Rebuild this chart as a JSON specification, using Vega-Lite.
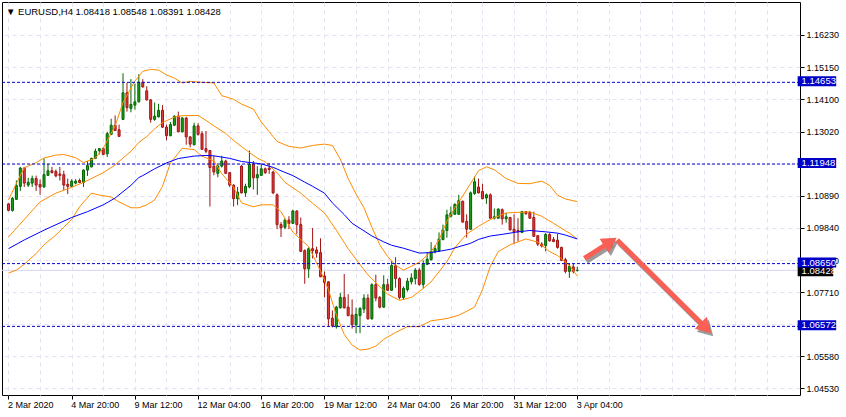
{
  "$schema": "https://vega.github.io/schema/vega-lite/v6.json",
  "width": 798,
  "height": 393,
  "autosize": {"type": "none"},
  "padding": {"left": 2, "top": 2, "right": 46, "bottom": 22},
  "background": "white",
  "title": {
    "text": "▼ EURUSD,H4  1.08418 1.08548 1.08391 1.08428",
    "anchor": "start",
    "frame": "group",
    "orient": "top",
    "offset": 0,
    "baseline": "top",
    "dx": 4,
    "dy": 14,
    "font": "Liberation Sans",
    "fontSize": 9.5,
    "fontWeight": "normal",
    "color": "black"
  },
  "config": {
    "view": {"stroke": "black", "strokeWidth": 1},
    "axis": {
      "gridColor": "#e2e2f2",
      "gridDash": [4, 4],
      "gridWidth": 1,
      "labelFont": "Liberation Sans",
      "labelFontSize": 9,
      "labelColor": "black",
      "tickColor": "black",
      "domain": false,
      "labelOverlap": false,
      "labelBound": false,
      "labelFlush": false
    }
  },
  "datasets": {
    "candles": [
      {"i":0,"o":1.10628,"h":1.1066,"l":1.10387,"c":1.10412},
      {"i":1,"o":1.10412,"h":1.10854,"l":1.1037,"c":1.10812},
      {"i":2,"o":1.1078,"h":1.11403,"l":1.10757,"c":1.11232},
      {"i":3,"o":1.11209,"h":1.11854,"l":1.11057,"c":1.11812},
      {"i":4,"o":1.11812,"h":1.11854,"l":1.11187,"c":1.11316},
      {"i":5,"o":1.11251,"h":1.1149,"l":1.11187,"c":1.11338},
      {"i":6,"o":1.11316,"h":1.11564,"l":1.11187,"c":1.11467},
      {"i":7,"o":1.11467,"h":1.11564,"l":1.11057,"c":1.11251},
      {"i":8,"o":1.11274,"h":1.11435,"l":1.10928,"c":1.11187},
      {"i":9,"o":1.11187,"h":1.12135,"l":1.11167,"c":1.11596},
      {"i":10,"o":1.11573,"h":1.11951,"l":1.11554,"c":1.11725},
      {"i":11,"o":1.11725,"h":1.11854,"l":1.11638,"c":1.11661},
      {"i":12,"o":1.11702,"h":1.11767,"l":1.11509,"c":1.11554},
      {"i":13,"o":1.11619,"h":1.11854,"l":1.11403,"c":1.11573},
      {"i":14,"o":1.11596,"h":1.11725,"l":1.1108,"c":1.11251},
      {"i":15,"o":1.11274,"h":1.11467,"l":1.10951,"c":1.11209},
      {"i":16,"o":1.11209,"h":1.11445,"l":1.11187,"c":1.1138},
      {"i":17,"o":1.11316,"h":1.11445,"l":1.11274,"c":1.1138},
      {"i":18,"o":1.11403,"h":1.11467,"l":1.11316,"c":1.11338},
      {"i":19,"o":1.11338,"h":1.11767,"l":1.11187,"c":1.11748},
      {"i":20,"o":1.11748,"h":1.12048,"l":1.11554,"c":1.11896},
      {"i":21,"o":1.11854,"h":1.12155,"l":1.11832,"c":1.12135},
      {"i":22,"o":1.12135,"h":1.12458,"l":1.12113,"c":1.12371},
      {"i":23,"o":1.12394,"h":1.12477,"l":1.12264,"c":1.12458},
      {"i":24,"o":1.12458,"h":1.125,"l":1.12242,"c":1.12264},
      {"i":25,"o":1.12284,"h":1.13016,"l":1.12177,"c":1.12952},
      {"i":26,"o":1.12929,"h":1.13446,"l":1.1291,"c":1.13232},
      {"i":27,"o":1.13232,"h":1.13555,"l":1.13039,"c":1.13058},
      {"i":28,"o":1.13081,"h":1.13252,"l":1.12845,"c":1.12864},
      {"i":29,"o":1.13426,"h":1.14952,"l":1.13403,"c":1.14307},
      {"i":30,"o":1.14307,"h":1.1463,"l":1.13684,"c":1.13813},
      {"i":31,"o":1.13791,"h":1.14759,"l":1.13662,"c":1.1392},
      {"i":32,"o":1.13897,"h":1.14607,"l":1.13749,"c":1.14007},
      {"i":33,"o":1.14007,"h":1.1492,"l":1.13984,"c":1.14652},
      {"i":34,"o":1.14652,"h":1.14759,"l":1.14478,"c":1.14501},
      {"i":35,"o":1.14372,"h":1.14523,"l":1.14049,"c":1.14071},
      {"i":36,"o":1.14071,"h":1.14091,"l":1.13316,"c":1.13426},
      {"i":37,"o":1.13426,"h":1.13984,"l":1.13381,"c":1.13533},
      {"i":38,"o":1.1351,"h":1.13942,"l":1.13491,"c":1.13726},
      {"i":39,"o":1.13726,"h":1.13897,"l":1.13145,"c":1.13168},
      {"i":40,"o":1.13168,"h":1.13252,"l":1.12736,"c":1.12887},
      {"i":41,"o":1.12887,"h":1.13339,"l":1.12864,"c":1.13252},
      {"i":42,"o":1.13232,"h":1.13555,"l":1.1321,"c":1.13533},
      {"i":43,"o":1.13533,"h":1.13684,"l":1.12994,"c":1.13016},
      {"i":44,"o":1.13016,"h":1.1351,"l":1.12994,"c":1.13468},
      {"i":45,"o":1.13468,"h":1.1351,"l":1.12587,"c":1.12845},
      {"i":46,"o":1.12845,"h":1.12864,"l":1.125,"c":1.12606},
      {"i":47,"o":1.12587,"h":1.13316,"l":1.12564,"c":1.1321},
      {"i":48,"o":1.1321,"h":1.13297,"l":1.12887,"c":1.12929},
      {"i":49,"o":1.12952,"h":1.13039,"l":1.12413,"c":1.12435},
      {"i":50,"o":1.12458,"h":1.13039,"l":1.12306,"c":1.12371},
      {"i":51,"o":1.12394,"h":1.12413,"l":1.10541,"c":1.11832},
      {"i":52,"o":1.11877,"h":1.12219,"l":1.11573,"c":1.11683},
      {"i":53,"o":1.11638,"h":1.11919,"l":1.11509,"c":1.11877},
      {"i":54,"o":1.11877,"h":1.12219,"l":1.11832,"c":1.12048},
      {"i":55,"o":1.12048,"h":1.1209,"l":1.11619,"c":1.11638},
      {"i":56,"o":1.11661,"h":1.11683,"l":1.11187,"c":1.11251},
      {"i":57,"o":1.11251,"h":1.11274,"l":1.10541,"c":1.10799},
      {"i":58,"o":1.10799,"h":1.11187,"l":1.10586,"c":1.11016},
      {"i":59,"o":1.11877,"h":1.11919,"l":1.10973,"c":1.10993},
      {"i":60,"o":1.10993,"h":1.11296,"l":1.10864,"c":1.11209},
      {"i":61,"o":1.11187,"h":1.12394,"l":1.11145,"c":1.11941},
      {"i":62,"o":1.11941,"h":1.12048,"l":1.11103,"c":1.1149},
      {"i":63,"o":1.1149,"h":1.11877,"l":1.10928,"c":1.11596},
      {"i":64,"o":1.11573,"h":1.11941,"l":1.11554,"c":1.1179},
      {"i":65,"o":1.1179,"h":1.11832,"l":1.11619,"c":1.11661},
      {"i":66,"o":1.11812,"h":1.11984,"l":1.11619,"c":1.11767},
      {"i":67,"o":1.11683,"h":1.11725,"l":1.10951,"c":1.10993},
      {"i":68,"o":1.10928,"h":1.10973,"l":1.09789,"c":1.09941},
      {"i":69,"o":1.09941,"h":1.10025,"l":1.09531,"c":1.09831},
      {"i":70,"o":1.09854,"h":1.10154,"l":1.09789,"c":1.1009},
      {"i":71,"o":1.1009,"h":1.10219,"l":1.09789,"c":1.09983},
      {"i":72,"o":1.09983,"h":1.10435,"l":1.09961,"c":1.10393},
      {"i":73,"o":1.10393,"h":1.10412,"l":1.09618,"c":1.09941},
      {"i":74,"o":1.09941,"h":1.10177,"l":1.09038,"c":1.09057},
      {"i":75,"o":1.0908,"h":1.09121,"l":1.07982,"c":1.08476},
      {"i":76,"o":1.08476,"h":1.09186,"l":1.08176,"c":1.09144},
      {"i":77,"o":1.09144,"h":1.09831,"l":1.08821,"c":1.0908},
      {"i":78,"o":1.09102,"h":1.09209,"l":1.08844,"c":1.08993},
      {"i":79,"o":1.09015,"h":1.09489,"l":1.08198,"c":1.08218},
      {"i":80,"o":1.08241,"h":1.08392,"l":1.07531,"c":1.08024},
      {"i":81,"o":1.08047,"h":1.08069,"l":1.06563,"c":1.06821},
      {"i":82,"o":1.06843,"h":1.07101,"l":1.0654,"c":1.06585},
      {"i":83,"o":1.06563,"h":1.0725,"l":1.06498,"c":1.07208},
      {"i":84,"o":1.07185,"h":1.07682,"l":1.07166,"c":1.07531},
      {"i":85,"o":1.07531,"h":1.08305,"l":1.07166,"c":1.07185},
      {"i":86,"o":1.07208,"h":1.07637,"l":1.06907,"c":1.06927},
      {"i":87,"o":1.0695,"h":1.07466,"l":1.06498,"c":1.06627},
      {"i":88,"o":1.06627,"h":1.07185,"l":1.06347,"c":1.06972},
      {"i":89,"o":1.06927,"h":1.07208,"l":1.06347,"c":1.07166},
      {"i":90,"o":1.07144,"h":1.07637,"l":1.07015,"c":1.07508},
      {"i":91,"o":1.07508,"h":1.07637,"l":1.06798,"c":1.06821},
      {"i":92,"o":1.06821,"h":1.07998,"l":1.06798,"c":1.07953},
      {"i":93,"o":1.07953,"h":1.08282,"l":1.07402,"c":1.07508},
      {"i":94,"o":1.07531,"h":1.07573,"l":1.07166,"c":1.07208},
      {"i":95,"o":1.07208,"h":1.08263,"l":1.07185,"c":1.07953},
      {"i":96,"o":1.07953,"h":1.08147,"l":1.07747,"c":1.07766},
      {"i":97,"o":1.07766,"h":1.08734,"l":1.07747,"c":1.08585},
      {"i":98,"o":1.08585,"h":1.08863,"l":1.07853,"c":1.08153},
      {"i":99,"o":1.08153,"h":1.08198,"l":1.07466,"c":1.07531},
      {"i":100,"o":1.07531,"h":1.07895,"l":1.07444,"c":1.07831},
      {"i":101,"o":1.07789,"h":1.08176,"l":1.07724,"c":1.08069},
      {"i":102,"o":1.08047,"h":1.08327,"l":1.0796,"c":1.08176},
      {"i":103,"o":1.08153,"h":1.08499,"l":1.0796,"c":1.08434},
      {"i":104,"o":1.08434,"h":1.08499,"l":1.07918,"c":1.0796},
      {"i":105,"o":1.0796,"h":1.08757,"l":1.07831,"c":1.0865},
      {"i":106,"o":1.08628,"h":1.09038,"l":1.08606,"c":1.08799},
      {"i":107,"o":1.08779,"h":1.0936,"l":1.08757,"c":1.09057},
      {"i":108,"o":1.09038,"h":1.09251,"l":1.08993,"c":1.09144},
      {"i":109,"o":1.0908,"h":1.09683,"l":1.09038,"c":1.09467},
      {"i":110,"o":1.09444,"h":1.09941,"l":1.09425,"c":1.09767},
      {"i":111,"o":1.09747,"h":1.10435,"l":1.09509,"c":1.10264},
      {"i":112,"o":1.10219,"h":1.10541,"l":1.10177,"c":1.10328},
      {"i":113,"o":1.10283,"h":1.10651,"l":1.10264,"c":1.10606},
      {"i":114,"o":1.10283,"h":1.10928,"l":1.10264,"c":1.10735},
      {"i":115,"o":1.10715,"h":1.10735,"l":1.10006,"c":1.10025},
      {"i":116,"o":1.10048,"h":1.10283,"l":1.09509,"c":1.09789},
      {"i":117,"o":1.09789,"h":1.11038,"l":1.09767,"c":1.10993},
      {"i":118,"o":1.10973,"h":1.11532,"l":1.10928,"c":1.11361},
      {"i":119,"o":1.11187,"h":1.11467,"l":1.10973,"c":1.10993},
      {"i":120,"o":1.11038,"h":1.11296,"l":1.1078,"c":1.10799},
      {"i":121,"o":1.10822,"h":1.10973,"l":1.10628,"c":1.10928},
      {"i":122,"o":1.10928,"h":1.10973,"l":1.10134,"c":1.10154},
      {"i":123,"o":1.10154,"h":1.10477,"l":1.10112,"c":1.10199},
      {"i":124,"o":1.10154,"h":1.10477,"l":1.10134,"c":1.10457},
      {"i":125,"o":1.10435,"h":1.10477,"l":1.09941,"c":1.10134},
      {"i":126,"o":1.10134,"h":1.10328,"l":1.10006,"c":1.10199},
      {"i":127,"o":1.10177,"h":1.10199,"l":1.09747,"c":1.09767},
      {"i":128,"o":1.09789,"h":1.10283,"l":1.09296,"c":1.09702},
      {"i":129,"o":1.09747,"h":1.10154,"l":1.0938,"c":1.09702},
      {"i":130,"o":1.09683,"h":1.10393,"l":1.0966,"c":1.1037},
      {"i":131,"o":1.1037,"h":1.10393,"l":1.10264,"c":1.10306},
      {"i":132,"o":1.10348,"h":1.10393,"l":1.10134,"c":1.10154},
      {"i":133,"o":1.10177,"h":1.1037,"l":1.09531,"c":1.09554},
      {"i":134,"o":1.09574,"h":1.09596,"l":1.09231,"c":1.09296},
      {"i":135,"o":1.09296,"h":1.0936,"l":1.09186,"c":1.09231},
      {"i":136,"o":1.09251,"h":1.0966,"l":1.09057,"c":1.09618},
      {"i":137,"o":1.09618,"h":1.0966,"l":1.0938,"c":1.09402},
      {"i":138,"o":1.09444,"h":1.09531,"l":1.0936,"c":1.0938},
      {"i":139,"o":1.09425,"h":1.09638,"l":1.09144,"c":1.09186},
      {"i":140,"o":1.09186,"h":1.09209,"l":1.08734,"c":1.08757},
      {"i":141,"o":1.08779,"h":1.08844,"l":1.08327,"c":1.08392},
      {"i":142,"o":1.08392,"h":1.0865,"l":1.08176,"c":1.08563},
      {"i":143,"o":1.08541,"h":1.0865,"l":1.08327,"c":1.08392},
      {"i":144,"o":1.08418,"h":1.08548,"l":1.08391,"c":1.08428}
    ],
    "bands": [
      {"b":"up","i":0,"p":1.10757},{"b":"up","i":2,"p":1.11306},{"b":"up","i":4,"p":1.11822},{"b":"up","i":7,"p":1.11993},
      {"b":"up","i":9,"p":1.12145},{"b":"up","i":12,"p":1.12242},{"b":"up","i":14,"p":1.12264},{"b":"up","i":17,"p":1.12155},
      {"b":"up","i":19,"p":1.11993},{"b":"up","i":22,"p":1.12145},{"b":"up","i":24,"p":1.12468},{"b":"up","i":27,"p":1.1321},
      {"b":"up","i":29,"p":1.13984},{"b":"up","i":32,"p":1.14694},{"b":"up","i":34,"p":1.15017},{"b":"up","i":36,"p":1.15081},
      {"b":"up","i":38,"p":1.15059},{"b":"up","i":40,"p":1.14897},{"b":"up","i":42,"p":1.14791},{"b":"up","i":44,"p":1.1463},
      {"b":"up","i":46,"p":1.14684},{"b":"up","i":49,"p":1.14652},{"b":"up","i":52,"p":1.1463},{"b":"up","i":54,"p":1.1421},
      {"b":"up","i":57,"p":1.14091},{"b":"up","i":59,"p":1.13929},{"b":"up","i":62,"p":1.13768},{"b":"up","i":64,"p":1.13339},
      {"b":"up","i":66,"p":1.13016},{"b":"up","i":68,"p":1.12694},{"b":"up","i":71,"p":1.12532},{"b":"up","i":74,"p":1.12477},
      {"b":"up","i":77,"p":1.12564},{"b":"up","i":80,"p":1.12606},{"b":"up","i":82,"p":1.12564},{"b":"up","i":84,"p":1.12113},
      {"b":"up","i":86,"p":1.11467},{"b":"up","i":88,"p":1.10951},{"b":"up","i":90,"p":1.10499},{"b":"up","i":92,"p":1.09854},
      {"b":"up","i":94,"p":1.09273},{"b":"up","i":96,"p":1.08886},{"b":"up","i":98,"p":1.08595},{"b":"up","i":100,"p":1.08434},
      {"b":"up","i":102,"p":1.08563},{"b":"up","i":104,"p":1.08692},{"b":"up","i":107,"p":1.09047},{"b":"up","i":109,"p":1.09434},
      {"b":"up","i":111,"p":1.10048},{"b":"up","i":113,"p":1.10499},{"b":"up","i":115,"p":1.10887},{"b":"up","i":117,"p":1.11306},
      {"b":"up","i":119,"p":1.11725},{"b":"up","i":121,"p":1.11855},{"b":"up","i":123,"p":1.11758},{"b":"up","i":126,"p":1.11467},
      {"b":"up","i":129,"p":1.11306},{"b":"up","i":132,"p":1.11296},{"b":"up","i":135,"p":1.1138},{"b":"up","i":137,"p":1.11241},
      {"b":"up","i":139,"p":1.10919},{"b":"up","i":141,"p":1.1079},{"b":"up","i":144,"p":1.10703},
      {"b":"mid","i":0,"p":1.09531},{"b":"mid","i":2,"p":1.09822},{"b":"mid","i":8,"p":1.10693},{"b":"mid","i":12,"p":1.10983},
      {"b":"mid","i":16,"p":1.11177},{"b":"mid","i":19,"p":1.11338},{"b":"mid","i":24,"p":1.11661},{"b":"mid","i":27,"p":1.11919},
      {"b":"mid","i":31,"p":1.12371},{"b":"mid","i":33,"p":1.12661},{"b":"mid","i":35,"p":1.12855},{"b":"mid","i":37,"p":1.13113},
      {"b":"mid","i":39,"p":1.13323},{"b":"mid","i":42,"p":1.135},{"b":"mid","i":44,"p":1.13549},{"b":"mid","i":48,"p":1.13555},
      {"b":"mid","i":50,"p":1.13394},{"b":"mid","i":52,"p":1.1321},{"b":"mid","i":55,"p":1.12961},{"b":"mid","i":57,"p":1.12726},
      {"b":"mid","i":60,"p":1.12426},{"b":"mid","i":63,"p":1.12145},{"b":"mid","i":65,"p":1.12016},{"b":"mid","i":68,"p":1.11661},
      {"b":"mid","i":70,"p":1.11338},{"b":"mid","i":74,"p":1.10983},{"b":"mid","i":77,"p":1.10645},{"b":"mid","i":80,"p":1.10328},
      {"b":"mid","i":83,"p":1.09757},{"b":"mid","i":86,"p":1.09144},{"b":"mid","i":88,"p":1.08789},{"b":"mid","i":91,"p":1.08282},
      {"b":"mid","i":93,"p":1.08015},{"b":"mid","i":96,"p":1.07637},{"b":"mid","i":99,"p":1.07434},{"b":"mid","i":102,"p":1.07531},
      {"b":"mid","i":104,"p":1.07724},{"b":"mid","i":107,"p":1.08047},{"b":"mid","i":111,"p":1.08715},{"b":"mid","i":113,"p":1.09176},
      {"b":"mid","i":116,"p":1.09628},{"b":"mid","i":119,"p":1.09886},{"b":"mid","i":122,"p":1.10112},{"b":"mid","i":126,"p":1.10328},
      {"b":"mid","i":129,"p":1.10348},{"b":"mid","i":132,"p":1.10361},{"b":"mid","i":135,"p":1.10219},{"b":"mid","i":138,"p":1.09983},
      {"b":"mid","i":142,"p":1.0966},{"b":"mid","i":144,"p":1.09467},
      {"b":"low","i":0,"p":1.08337},{"b":"low","i":2,"p":1.08434},{"b":"low","i":4,"p":1.08628},{"b":"low","i":7,"p":1.08983},
      {"b":"low","i":9,"p":1.09273},{"b":"low","i":12,"p":1.09596},{"b":"low","i":14,"p":1.09854},{"b":"low","i":16,"p":1.10112},
      {"b":"low","i":18,"p":1.10532},{"b":"low","i":21,"p":1.10983},{"b":"low","i":23,"p":1.10919},{"b":"low","i":26,"p":1.10854},
      {"b":"low","i":28,"p":1.10693},{"b":"low","i":31,"p":1.10499},{"b":"low","i":33,"p":1.10499},{"b":"low","i":35,"p":1.10596},
      {"b":"low","i":37,"p":1.10757},{"b":"low","i":39,"p":1.11209},{"b":"low","i":41,"p":1.11984},{"b":"low","i":44,"p":1.12468},
      {"b":"low","i":47,"p":1.12426},{"b":"low","i":49,"p":1.1221},{"b":"low","i":52,"p":1.12048},{"b":"low","i":54,"p":1.11629},
      {"b":"low","i":57,"p":1.11177},{"b":"low","i":59,"p":1.10661},{"b":"low","i":62,"p":1.10532},{"b":"low","i":64,"p":1.10596},
      {"b":"low","i":67,"p":1.10596},{"b":"low","i":69,"p":1.1037},{"b":"low","i":72,"p":1.09693},{"b":"low","i":76,"p":1.09209},
      {"b":"low","i":79,"p":1.08402},{"b":"low","i":81,"p":1.07789},{"b":"low","i":83,"p":1.0695},{"b":"low","i":85,"p":1.06304},
      {"b":"low","i":87,"p":1.0595},{"b":"low","i":89,"p":1.05788},{"b":"low","i":91,"p":1.0582},{"b":"low","i":93,"p":1.05917},
      {"b":"low","i":95,"p":1.06143},{"b":"low","i":98,"p":1.06369},{"b":"low","i":101,"p":1.06563},{"b":"low","i":104,"p":1.06563},
      {"b":"low","i":107,"p":1.06756},{"b":"low","i":111,"p":1.0683},{"b":"low","i":114,"p":1.0694},{"b":"low","i":118,"p":1.07208},
      {"b":"low","i":120,"p":1.07789},{"b":"low","i":122,"p":1.08563},{"b":"low","i":124,"p":1.09047},{"b":"low","i":127,"p":1.09273},
      {"b":"low","i":131,"p":1.09467},{"b":"low","i":134,"p":1.0936},{"b":"low","i":137,"p":1.09047},{"b":"low","i":139,"p":1.08918},
      {"b":"low","i":142,"p":1.08595},{"b":"low","i":144,"p":1.08241}
    ],
    "ma": [
      {"i":0,"p":1.09144},{"i":4,"p":1.09434},{"i":9,"p":1.09757},{"i":16,"p":1.10177},{"i":20,"p":1.1037},
      {"i":24,"p":1.10596},{"i":27,"p":1.10822},{"i":31,"p":1.11241},{"i":33,"p":1.115},{"i":34,"p":1.11564},
      {"i":37,"p":1.1179},{"i":40,"p":1.11984},{"i":43,"p":1.12129},{"i":47,"p":1.1221},{"i":50,"p":1.12232},
      {"i":52,"p":1.12219},{"i":54,"p":1.12177},{"i":56,"p":1.12135},{"i":59,"p":1.12032},{"i":62,"p":1.11984},
      {"i":64,"p":1.11951},{"i":67,"p":1.11838},{"i":69,"p":1.11725},{"i":72,"p":1.11564},{"i":75,"p":1.11348},
      {"i":77,"p":1.11209},{"i":80,"p":1.10983},{"i":82,"p":1.10661},{"i":85,"p":1.10273},{"i":87,"p":1.09983},
      {"i":90,"p":1.09735},{"i":92,"p":1.09564},{"i":95,"p":1.0937},{"i":97,"p":1.09257},{"i":100,"p":1.0916},
      {"i":102,"p":1.0908},{"i":104,"p":1.08999},{"i":107,"p":1.09015},{"i":109,"p":1.09057},{"i":112,"p":1.09128},
      {"i":114,"p":1.09209},{"i":117,"p":1.09322},{"i":119,"p":1.09451},{"i":122,"p":1.09564},{"i":125,"p":1.09618},
      {"i":129,"p":1.09702},{"i":132,"p":1.09747},{"i":136,"p":1.09702},{"i":139,"p":1.0966},{"i":141,"p":1.09596},
      {"i":144,"p":1.09467}
    ],
    "levels": [{"p":1.14653},{"p":1.11948},{"p":1.0865},{"p":1.06572}],
    "last": [{"p":1.08428}],
    "arrows": [
      {"a":1,"i":145.8,"p":1.08821},{"a":1,"i":152.4,"p":1.0937},
      {"a":2,"i":154.1,"p":1.09434},{"a":2,"i":176.6,"p":1.06517}
    ],
    "heads": [
      {"a":1,"i":152.4,"p":1.0937},
      {"a":2,"i":176.6,"p":1.06517}
    ]
  },
  "layer": [
    {
      "data": {"name": "last"},
      "mark": {"type": "rule", "color": "#d4d4f0", "strokeWidth": 1},
      "encoding": {
        "y": {
          "field": "p",
          "type": "quantitative",
          "title": null,
          "scale": {"domain": [1.04465, 1.17147], "zero": false, "nice": false},
          "axis": {
            "orient": "right",
            "values": [1.0453, 1.0558, 1.0664, 1.0771, 1.0876, 1.0984, 1.1089, 1.1196, 1.1302, 1.141, 1.1515, 1.1623],
            "tickCount": 40,
            "format": ".5f",
            "labelExpr": "abs(datum.value - 1.1196) < 0.00001 || abs(datum.value - 1.0664) < 0.00001 ? '' : datum.label",
            "grid": true,
            "tickSize": 4,
            "labelPadding": 2,
            "labelOverlap": false,
            "labelBound": false,
            "title": null
          }
        }
      }
    },
    {
      "data": {"name": "candles"},
      "mark": {"type": "rule", "strokeWidth": 1},
      "encoding": {
        "x": {
          "field": "i",
          "type": "quantitative",
          "title": null,
          "scale": {"domain": [-0.375, 199.125], "zero": false, "nice": false},
          "axis": {
            "orient": "bottom",
            "values": [0, 8, 16, 24, 32, 40, 48, 56, 64, 72, 80, 88, 96, 104, 112, 120, 128, 136, 144, 152, 160, 168, 176, 184, 192],
            "tickCount": 60,
            "grid": true,
            "tickSize": 4,
            "labelPadding": 1,
            "labelAlign": "left",
            "labelOffset": -1,
            "labelOverlap": false,
            "labelExpr": "datum.value % 16 == 0 && datum.value <= 144 ? ['2 Mar 2020','4 Mar 20:00','9 Mar 12:00','12 Mar 04:00','16 Mar 20:00','19 Mar 12:00','24 Mar 04:00','26 Mar 20:00','31 Mar 12:00','3 Apr 04:00'][datum.value / 16] : ''",
            "tickColor": {"condition": {"test": "datum.value % 16 == 0 && datum.value <= 144", "value": "black"}, "value": "transparent"},
            "title": null
          }
        },
        "y": {"field": "l", "type": "quantitative", "title": null},
        "y2": {"field": "h"},
        "color": {"condition": {"test": "datum.c >= datum.o", "value": "#006400"}, "value": "#a01414"}
      }
    },
    {
      "data": {"name": "candles"},
      "mark": {"type": "bar", "width": 2, "strokeWidth": 1},
      "encoding": {
        "x": {"field": "i", "type": "quantitative", "title": null},
        "y": {"field": "o", "type": "quantitative", "title": null},
        "y2": {"field": "c"},
        "fill": {"condition": {"test": "datum.c >= datum.o", "value": "#1ea01e"}, "value": "#e23c3c"},
        "stroke": {"condition": {"test": "datum.c >= datum.o", "value": "#006400"}, "value": "#a01414"}
      }
    },
    {
      "data": {"name": "bands"},
      "mark": {"type": "line", "color": "#ff8c00", "strokeWidth": 1},
      "encoding": {
        "x": {"field": "i", "type": "quantitative", "title": null},
        "y": {"field": "p", "type": "quantitative", "title": null},
        "detail": {"field": "b"}
      }
    },
    {
      "data": {"name": "ma"},
      "mark": {"type": "line", "color": "#0000ff", "strokeWidth": 1},
      "encoding": {
        "x": {"field": "i", "type": "quantitative", "title": null},
        "y": {"field": "p", "type": "quantitative", "title": null}
      }
    },
    {
      "data": {"name": "levels"},
      "mark": {"type": "rule", "color": "#0000c8", "strokeWidth": 1, "strokeDash": [3, 2]},
      "encoding": {
        "y": {"field": "p", "type": "quantitative", "title": null}
      }
    },
    {
      "data": {"name": "arrows"},
      "mark": {"type": "line", "color": "#7a7a7a", "opacity": 0.75, "strokeWidth": 5, "strokeCap": "butt", "xOffset": 2, "yOffset": 3},
      "encoding": {
        "x": {"field": "i", "type": "quantitative", "title": null},
        "y": {"field": "p", "type": "quantitative", "title": null},
        "detail": {"field": "a"}
      }
    },
    {
      "data": {"name": "heads"},
      "transform": [{"filter": "datum.a == 1"}],
      "mark": {"type": "point", "shape": "triangle-up", "filled": true, "size": 289, "angle": 57, "color": "#7a7a7a", "opacity": 0.75, "xOffset": 2, "yOffset": 3},
      "encoding": {
        "x": {"field": "i", "type": "quantitative", "title": null},
        "y": {"field": "p", "type": "quantitative", "title": null}
      }
    },
    {
      "data": {"name": "heads"},
      "transform": [{"filter": "datum.a == 2"}],
      "mark": {"type": "point", "shape": "triangle-up", "filled": true, "size": 289, "angle": 135, "color": "#7a7a7a", "opacity": 0.75, "xOffset": 2, "yOffset": 3},
      "encoding": {
        "x": {"field": "i", "type": "quantitative", "title": null},
        "y": {"field": "p", "type": "quantitative", "title": null}
      }
    },
    {
      "data": {"name": "arrows"},
      "mark": {"type": "line", "color": "#f86056", "strokeWidth": 5, "strokeCap": "butt"},
      "encoding": {
        "x": {"field": "i", "type": "quantitative", "title": null},
        "y": {"field": "p", "type": "quantitative", "title": null},
        "detail": {"field": "a"}
      }
    },
    {
      "data": {"name": "heads"},
      "transform": [{"filter": "datum.a == 1"}],
      "mark": {"type": "point", "shape": "triangle-up", "filled": true, "size": 289, "angle": 57, "color": "#f86056", "opacity": 1},
      "encoding": {
        "x": {"field": "i", "type": "quantitative", "title": null},
        "y": {"field": "p", "type": "quantitative", "title": null}
      }
    },
    {
      "data": {"name": "heads"},
      "transform": [{"filter": "datum.a == 2"}],
      "mark": {"type": "point", "shape": "triangle-up", "filled": true, "size": 289, "angle": 135, "color": "#f86056", "opacity": 1},
      "encoding": {
        "x": {"field": "i", "type": "quantitative", "title": null},
        "y": {"field": "p", "type": "quantitative", "title": null}
      }
    },
    {
      "data": {"name": "last"},
      "mark": {"type": "bar", "color": "black", "height": 10, "yOffset": 1, "clip": false},
      "encoding": {
        "x": {"datum": 199.8, "type": "quantitative"},
        "x2": {"datum": 208.8},
        "y": {"field": "p", "type": "quantitative", "title": null}
      }
    },
    {
      "data": {"name": "last"},
      "mark": {"type": "text", "align": "left", "baseline": "middle", "color": "white", "font": "Liberation Sans", "fontSize": 9.5, "yOffset": 1, "clip": false},
      "encoding": {
        "x": {"datum": 200.8, "type": "quantitative"},
        "y": {"field": "p", "type": "quantitative", "title": null},
        "text": {"field": "p", "type": "quantitative", "format": ".5f"}
      }
    },
    {
      "data": {"name": "levels"},
      "mark": {"type": "bar", "color": "#0000c8", "height": 10, "yOffset": -1, "clip": false},
      "encoding": {
        "x": {"datum": 199.8, "type": "quantitative"},
        "x2": {"datum": 209.55},
        "y": {"field": "p", "type": "quantitative", "title": null}
      }
    },
    {
      "data": {"name": "levels"},
      "mark": {"type": "text", "align": "left", "baseline": "middle", "color": "white", "font": "Liberation Sans", "fontSize": 9.5, "yOffset": -1, "clip": false},
      "encoding": {
        "x": {"datum": 200.8, "type": "quantitative"},
        "y": {"field": "p", "type": "quantitative", "title": null},
        "text": {"field": "p", "type": "quantitative", "format": ".5f"}
      }
    }
  ]
}
